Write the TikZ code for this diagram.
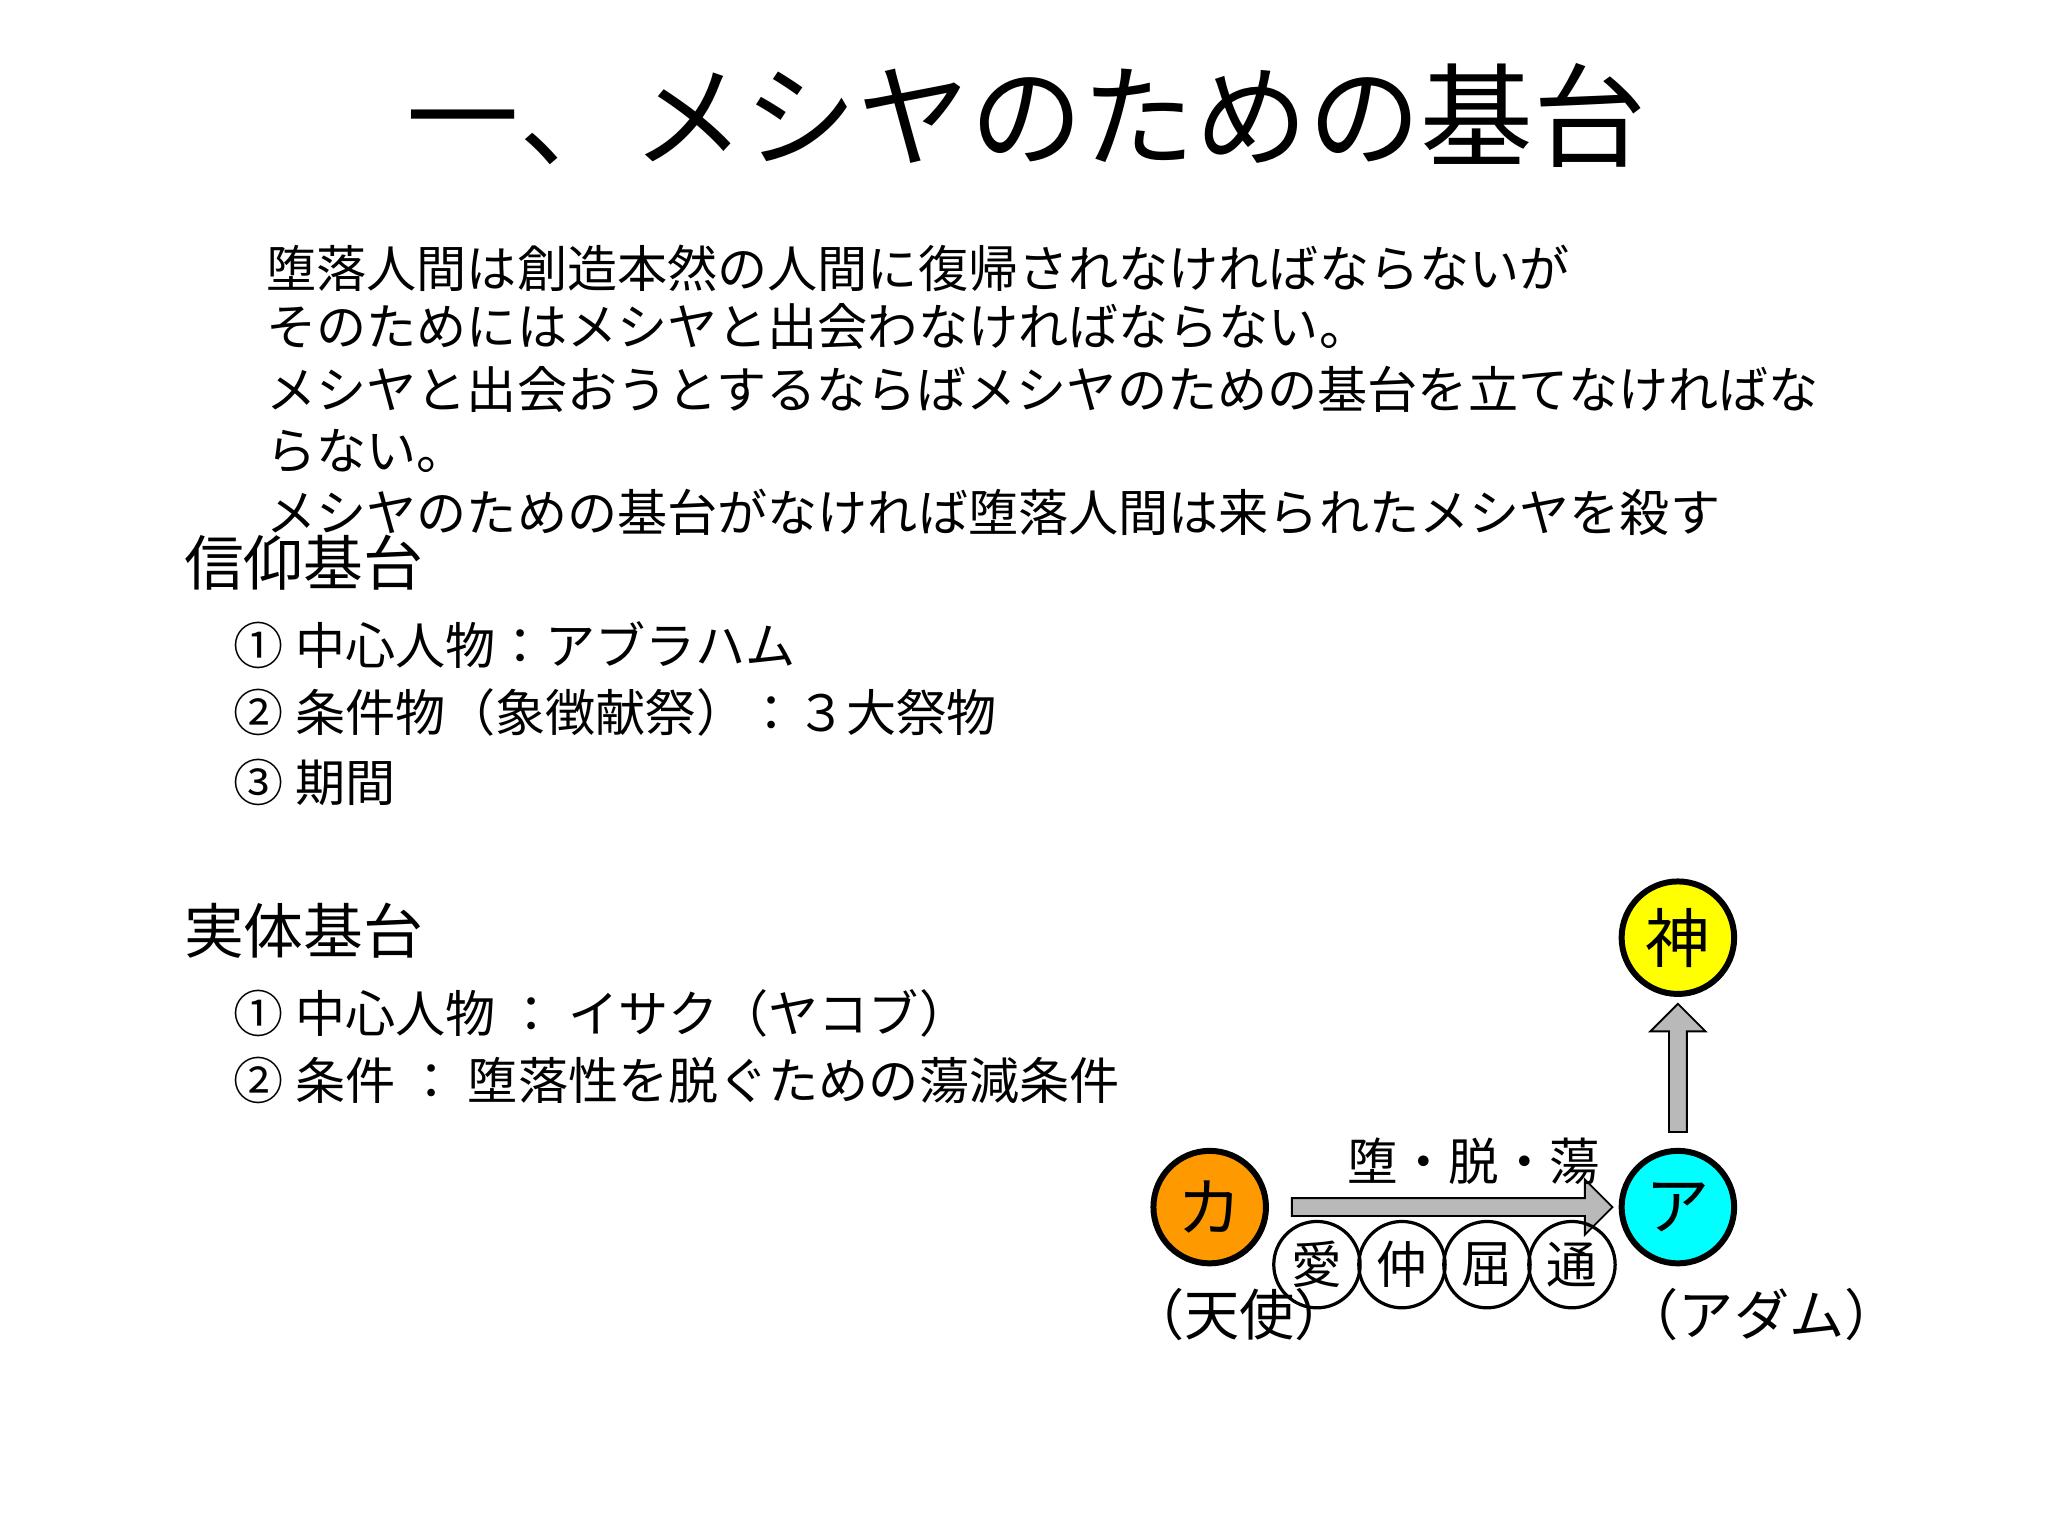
\documentclass[tikz,border=0pt]{standalone}
\usepackage{fontspec}
\setmainfont{Noto Sans CJK JP}
\usetikzlibrary{shapes.arrows}
\definecolor{aqua}{RGB}{0,255,255}
\definecolor{yel}{RGB}{255,255,0}
\definecolor{org}{RGB}{255,153,0}
\begin{document}
\begin{tikzpicture}[x=0.01cm,y=-0.01cm,
  body/.style={anchor=west,font=\fontsize{10.9pt}{12pt}\selectfont,inner sep=0},
  head/.style={anchor=west,font=\fontsize{13pt}{15pt}\selectfont,inner sep=0},
  big/.style={circle,draw,line width=1.3pt,minimum size=0.86cm,inner sep=0,font=\fontsize{14pt}{16pt}\selectfont},
  small/.style={circle,draw,line width=0.7pt,minimum size=0.66cm,inner sep=0,font=\fontsize{11pt}{13pt}\selectfont},
  blk/.style={single arrow,draw,fill=gray!55,minimum width=12pt,single arrow head extend=2.5pt,inner sep=1pt}]
\useasboundingbox (0,0) rectangle (1566,1175);
\node (title) at (785,88) {\fontsize{24.5pt}{28pt}\selectfont 一、メシヤのための基台};
\node[body] (p1) at (203,205) {堕落人間は創造本然の人間に復帰されなければならないが};
\node[body] (p2) at (203,250) {そのためにはメシヤと出会わなければならない。};
\node[body] (p3) at (203,298) {メシヤと出会おうとするならばメシヤのための基台を立てなければな};
\node[body] (p4) at (203,345) {らない。};
\node[body] (p5) at (203,392) {メシヤのための基台がなければ堕落人間は来られたメシヤを殺す};
\node[head] (h1) at (140,430) {信仰基台};
\node[body] (a1) at (178,493) {① 中心人物：アブラハム};
\node[body] (a2) at (178,545) {② 条件物（象徴献祭）：３大祭物};
\node[body] (a3) at (178,598) {③ 期間};
\node[head] (h2) at (140,712) {実体基台};
\node[body] (b1) at (178,775) {① 中心人物 ： イサク（ヤコブ）};
\node[body] (b2) at (178,826) {② 条件 ： 堕落性を脱ぐための蕩減条件};
\node[big,fill=yel] (god) at (1283,717) {神};
\node[big,fill=org] (ka) at (925,923) {カ};
\node[big,fill=aqua] (a) at (1283,923) {ア};
\node[blk,minimum height=2.45cm] (h) at (1107,923) {};
\node[blk,minimum height=0.98cm,rotate=90] (v) at (1283,820) {};
\node (lab) at (1127,888) {\fontsize{11pt}{13pt}\selectfont 堕・脱・蕩};
\node[small] (s1) at (1007,967) {愛};
\node[small] (s2) at (1072,967) {仲};
\node[small] (s3) at (1137,967) {屈};
\node[small] (s4) at (1202,967) {通};
\node (t1) at (948,1005) {\fontsize{12pt}{14pt}\selectfont （天使）};
\node (t2) at (1347,1005) {\fontsize{12pt}{14pt}\selectfont （アダム）};
\end{tikzpicture}
\end{document}
